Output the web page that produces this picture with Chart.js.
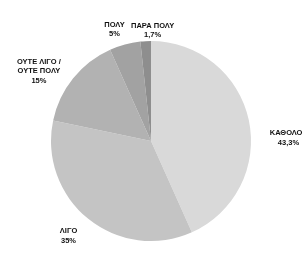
<!DOCTYPE html>
<html>
<head>
<meta charset="utf-8">
<script src="https://cdn.jsdelivr.net/npm/chart.js@4"></script>
<style>
  html, body { margin: 0; padding: 0; background: #fff; }
  #wrap { width: 302px; height: 254px; position: relative; }
</style>
</head>
<body>
<div id="wrap"><canvas id="pie"></canvas></div>
<script>
// Answers and shares (%), clockwise from 12 o'clock
const categories = ['ΚΑΘΟΛΟΥ', 'ΛΙΓΟ', 'ΟΥΤΕ ΛΙΓΟ /\nΟΥΤΕ ΠΟΛΥ', 'ΠΟΛΥ', 'ΠΑΡΑ ΠΟΛΥ'];
const shares = [43.3, 35, 15, 5, 1.7];
const sliceColors = ['#d9d9d9', '#c4c4c4', '#b2b2b2', '#a2a2a2', '#8e8e8e'];

function pctText(v) {
  return String(v).replace('.', ',') + '%';
}

// draws "name / value" outside each slice, pushed out along the slice's mid angle
const outsideLabels = {
  id: 'outsideLabels',
  afterDatasetsDraw(chart, args, opts) {
    const ctx = chart.ctx;
    const meta = chart.getDatasetMeta(0);
    const lineH = opts.lineHeight;
    ctx.save();
    ctx.font = opts.font;
    ctx.fillStyle = opts.color;
    ctx.textAlign = 'center';
    ctx.textBaseline = 'middle';
    meta.data.forEach((arc, i) => {
      const p = arc.getProps(['x', 'y', 'startAngle', 'endAngle', 'outerRadius'], true);
      const mid = (p.startAngle + p.endAngle) / 2;
      const lines = categories[i].split('\n').concat(pctText(shares[i]));
      const w = Math.max(...lines.map(t => ctx.measureText(t).width));
      const h = lines.length * lineH;
      const dx = Math.cos(mid), dy = Math.sin(mid);
      const extent = Math.abs(dx) * w / 2 + Math.abs(dy) * h / 2;
      const d = p.outerRadius + opts.pad + extent;
      // small hand tweaks so labels sit where the original "best fit" put them
      const nudge = (opts.nudge && opts.nudge[i]) || [0, 0];
      const cx = p.x + dx * d + nudge[0];
      const cy = p.y + dy * d + nudge[1];
      lines.forEach((t, k) => {
        ctx.fillText(t, cx, cy - h / 2 + lineH / 2 + k * lineH);
      });
    });
    ctx.restore();
  }
};

new Chart(document.getElementById('pie'), {
  type: 'pie',
  data: {
    labels: categories,
    datasets: [{
      data: shares,
      backgroundColor: sliceColors,
      borderWidth: 0
    }]
  },
  options: {
    responsive: true,
    maintainAspectRatio: false,
    animation: false,
    layout: { padding: { top: 41, bottom: 13, left: 0, right: 0 } },
    plugins: {
      legend: { display: false },
      tooltip: { enabled: false },
      outsideLabels: {
        font: 'bold 7.5px "Liberation Sans", Arial, sans-serif',
        color: '#111',
        lineHeight: 9.5,
        pad: 9,
        nudge: [[11, 24], [-6, 0], [-7, 15], [-5, 5], [8, 9]]
      }
    }
  },
  plugins: [outsideLabels]
});
</script>
</body>
</html>
